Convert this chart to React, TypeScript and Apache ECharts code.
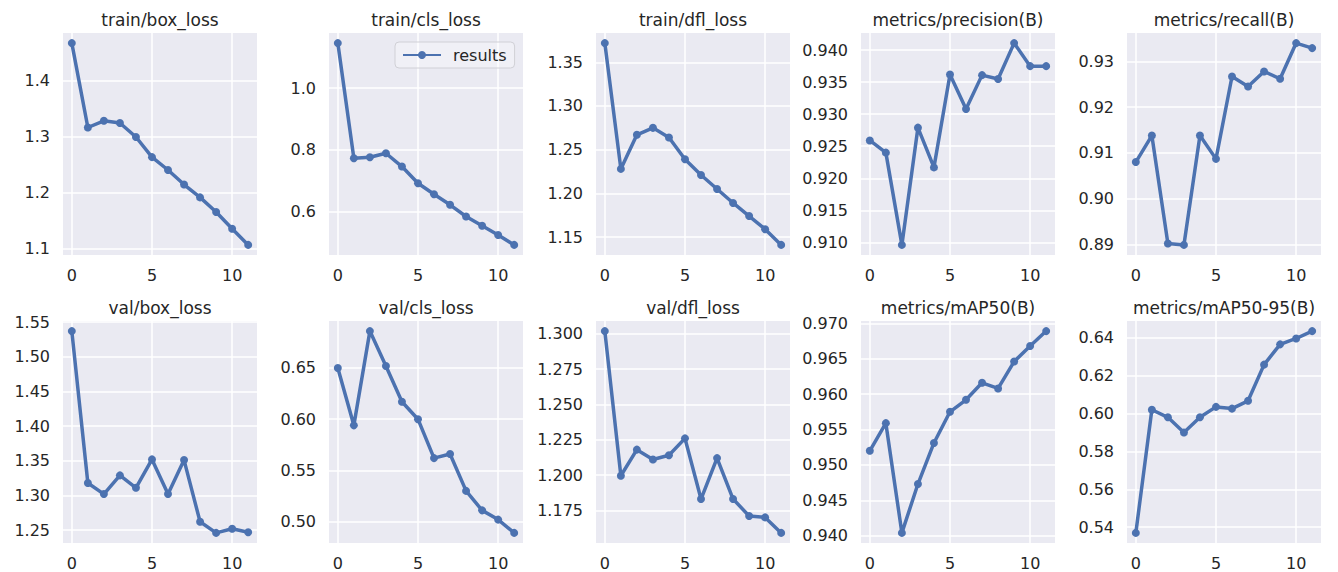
import React, { useEffect, useRef } from "react";
import * as echarts from "echarts";

const epochs = [0, 1, 2, 3, 4, 5, 6, 7, 8, 9, 10, 11];
const xTicks = [0, 5, 10];

const titles = [
  "train/box_loss",
  "train/cls_loss",
  "train/dfl_loss",
  "metrics/precision(B)",
  "metrics/recall(B)",
  "val/box_loss",
  "val/cls_loss",
  "val/dfl_loss",
  "metrics/mAP50(B)",
  "metrics/mAP50-95(B)",
];

const trainBoxLoss = [1.467, 1.316, 1.328, 1.324, 1.299, 1.263, 1.24, 1.214, 1.191, 1.165, 1.135, 1.106];
const trainClsLoss = [1.146, 0.773, 0.776, 0.789, 0.746, 0.692, 0.656, 0.622, 0.584, 0.554, 0.524, 0.492];
const trainDflLoss = [1.372, 1.228, 1.267, 1.275, 1.264, 1.239, 1.221, 1.205, 1.189, 1.174, 1.159, 1.141];
const precisionB = [0.9259, 0.924, 0.9096, 0.9279, 0.9217, 0.9362, 0.9308, 0.9361, 0.9355, 0.9411, 0.9375, 0.9375];
const recallB = [0.908, 0.9138, 0.8902, 0.8899, 0.9138, 0.9087, 0.9267, 0.9245, 0.9278, 0.9262, 0.934, 0.9329];
const valBoxLoss = [1.537, 1.318, 1.302, 1.329, 1.311, 1.352, 1.302, 1.351, 1.262, 1.246, 1.252, 1.247];
const valClsLoss = [0.65, 0.594, 0.686, 0.652, 0.617, 0.6, 0.562, 0.566, 0.53, 0.511, 0.502, 0.489];
const valDflLoss = [1.302, 1.1995, 1.218, 1.211, 1.214, 1.226, 1.183, 1.212, 1.183, 1.171, 1.17, 1.159];
const mAP50B = [0.952, 0.9559, 0.9404, 0.9473, 0.9531, 0.9575, 0.9592, 0.9616, 0.9608, 0.9646, 0.9668, 0.9689];
const mAP5095B = [0.537, 0.602, 0.598, 0.59, 0.598, 0.6035, 0.6026, 0.6067, 0.6258, 0.6365, 0.6396, 0.6435];

const yTicksTrainBox = [1.1, 1.2, 1.3, 1.4];
const yTicksTrainCls = [0.6, 0.8, 1.0];
const yTicksTrainDfl = [1.15, 1.2, 1.25, 1.3, 1.35];
const yTicksPrecision = [0.91, 0.915, 0.92, 0.925, 0.93, 0.935, 0.94];
const yTicksRecall = [0.89, 0.9, 0.91, 0.92, 0.93];
const yTicksValBox = [1.25, 1.3, 1.35, 1.4, 1.45, 1.5, 1.55];
const yTicksValCls = [0.5, 0.55, 0.6, 0.65];
const yTicksValDfl = [1.175, 1.2, 1.225, 1.25, 1.275, 1.3];
const yTicksMAP50 = [0.94, 0.945, 0.95, 0.955, 0.96, 0.965, 0.97];
const yTicksMAP5095 = [0.54, 0.56, 0.58, 0.6, 0.62, 0.64];

const decimals = [1, 1, 2, 3, 2, 2, 2, 3, 3, 2];

const seriesData = [
  trainBoxLoss, trainClsLoss, trainDflLoss, precisionB, recallB,
  valBoxLoss, valClsLoss, valDflLoss, mAP50B, mAP5095B,
];
const yTicks = [
  yTicksTrainBox, yTicksTrainCls, yTicksTrainDfl, yTicksPrecision, yTicksRecall,
  yTicksValBox, yTicksValCls, yTicksValDfl, yTicksMAP50, yTicksMAP5095,
];

const COL_LEFT = [63, 329, 596, 861, 1127];
const ROW_TOP = [33, 321];
const PW = 194;
const PH = 222;
const FONT = "DejaVu Sans";
const TEXT = "#262626";
const BLUE = "#4C72B0";

export default function App() {
  const ref = useRef<HTMLDivElement>(null);
  useEffect(() => {
    if (!ref.current) return;
    const chart = echarts.init(ref.current, null, { renderer: "svg" });
    const grids: any[] = [];
    const xAxes: any[] = [];
    const yAxes: any[] = [];
    const series: any[] = [];
    const graphics: any[] = [];
    for (let i = 0; i < 10; i++) {
      const r = Math.floor(i / 5);
      const c = i % 5;
      const left = COL_LEFT[c];
      const top = ROW_TOP[r];
      grids.push({
        left, top, width: PW, height: PH,
        show: true, backgroundColor: "#EAEAF2", borderWidth: 0,
      });
      const xmin = Math.min(...epochs), xmax = Math.max(...epochs);
      const xm = (xmax - xmin) * 0.05;
      xAxes.push({
        type: "value", gridIndex: i, min: xmin - xm, max: xmax + xm,
        axisLine: { show: false },
        axisTick: { show: false, customValues: xTicks },
        axisLabel: { customValues: xTicks, color: TEXT, fontSize: 16, fontFamily: FONT, margin: 12 },
        splitLine: { show: true, lineStyle: { color: "#ffffff", width: 1.5 } },
      });
      const d = seriesData[i];
      const ymin = Math.min(...d), ymax = Math.max(...d);
      const ym = (ymax - ymin) * 0.05;
      const dec = decimals[i];
      yAxes.push({
        type: "value", gridIndex: i, min: ymin - ym, max: ymax + ym,
        axisLine: { show: false },
        axisTick: { show: false, customValues: yTicks[i] },
        axisLabel: {
          customValues: yTicks[i], color: TEXT, fontSize: 16, fontFamily: FONT, margin: 13,
          formatter: (v: number) => v.toFixed(dec),
        },
        splitLine: { show: true, lineStyle: { color: "#ffffff", width: 1.5 } },
      });
      series.push({
        type: "line", name: "results", xAxisIndex: i, yAxisIndex: i,
        data: epochs.map((e, k) => [e, d[k]]),
        symbol: "circle", symbolSize: 8, showSymbol: true,
        lineStyle: { color: BLUE, width: 3.5 },
        itemStyle: { color: BLUE },
        emphasis: { disabled: true },
      });
      graphics.push({
        type: "text", x: left + PW / 2, y: top - 13,
        style: { text: titles[i], fill: TEXT, fontSize: 17, fontFamily: FONT, align: "center", verticalAlign: "middle" },
      });
    }
    chart.setOption({
      animation: false,
      backgroundColor: "#ffffff",
      grid: grids,
      xAxis: xAxes,
      yAxis: yAxes,
      series,
      graphic: graphics,
      legend: {
        data: ["results"],
        left: 395, top: 42,
        itemWidth: 38, itemHeight: 10,
        backgroundColor: "rgba(255,255,255,0.3)",
        borderColor: "#d0d0d6", borderWidth: 1, borderRadius: 4,
        padding: [5, 8, 5, 7],
        textStyle: { color: TEXT, fontSize: 16, fontFamily: FONT, padding: [0, 0, 0, 7] },
        selectedMode: false,
      },
    });
    return () => chart.dispose();
  }, []);
  return <div ref={ref} style={{ position: "fixed", left: 0, top: 0, width: 1338, height: 572 }} />;
}
